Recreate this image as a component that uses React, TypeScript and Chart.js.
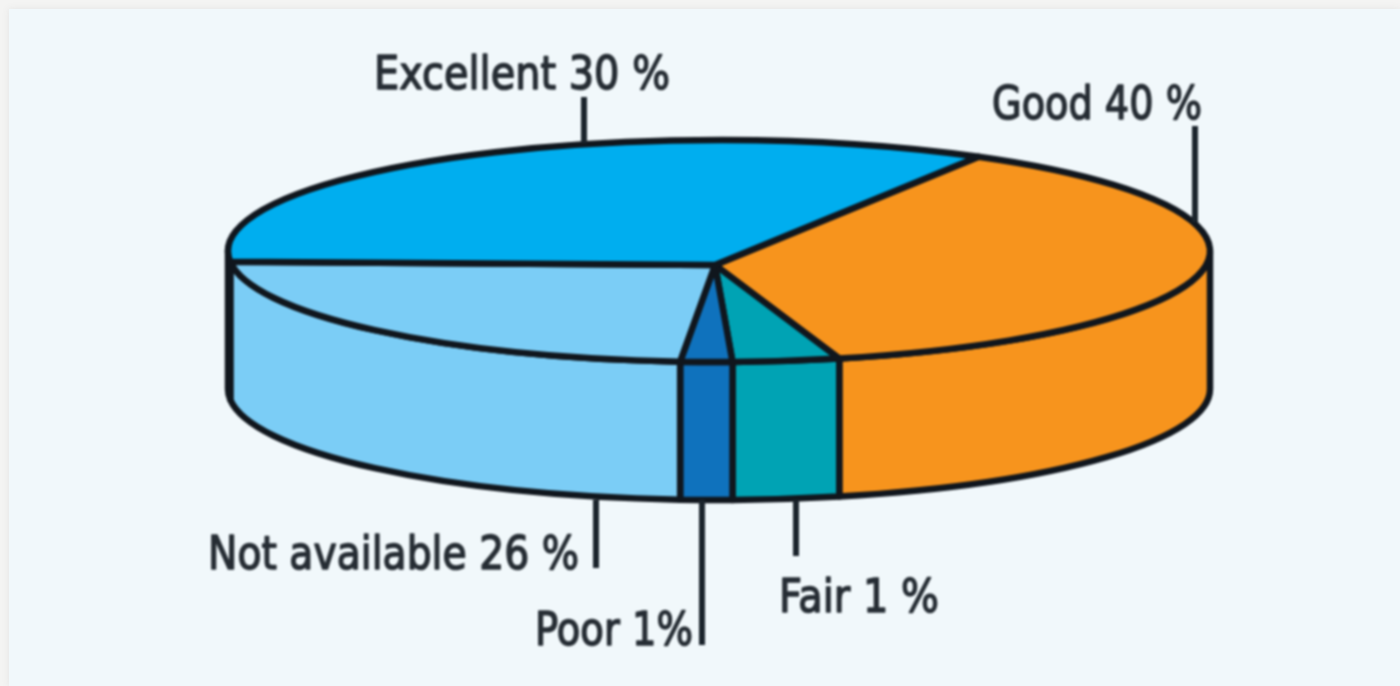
import React, { useEffect, useRef } from "react";
import { Chart, registerables } from "chart.js";

Chart.register(...registerables);

// Printed captions of the source figure.
const captions = ["Good 40 %", "Fair 1 %", "Poor 1%", "Not available 26 %", "Excellent 30 %"];
// Printed percentages (the figure's slices are not drawn to these proportions).
const printedPercent = [40, 1, 1, 26, 30];
// Share of the circle each slice actually occupies in the picture.
const drawnShares = [37.2, 3.5, 1.7, 22.2, 35.4];
const sliceColors = ["#f7941d", "#00a3b4", "#0f72bd", "#7bcdf6", "#00aeef"];

// Layout, separate from the data.
const ROTATION_DEG = 31.9;
const DEPTH = 138;
const HUB_OFFSET = { x: -4, y: 14 };
const INK = "#10161d";
const TEXT = "#262d34";
const LEADER = "#1b242c";
const captionBoxes = [
  { left: 992, width: 210, base: 119, lx: 1195, y1: 126, y2: 222 },
  { left: 779, width: 160, base: 612, lx: 796, y1: 500, y2: 556 },
  { left: 535, width: 158, base: 645, lx: 702, y1: 500, y2: 645 },
  { left: 208, width: 371, base: 569, lx: 596, y1: 500, y2: 568 },
  { left: 374, width: 296, base: 89, lx: 584, y1: 97, y2: 143 },
];

const TAU = Math.PI * 2;

const pie3d = {
  id: "pie3d",
  beforeDatasetDraw(chart: any) {
    const { ctx, chartArea } = chart;
    const meta = chart.getDatasetMeta(0);
    const rx = chartArea.width / 2;
    const ry = chartArea.height / 2;
    const cx = chartArea.left + rx;
    const cy = chartArea.top + ry;
    const colors = chart.data.datasets[0].backgroundColor;

    ctx.save();
    ctx.lineWidth = 6.5;
    ctx.lineJoin = "round";
    ctx.strokeStyle = INK;

    // Front walls
    meta.data.forEach((arc: any, i: number) => {
      let a = arc.startAngle % TAU;
      if (a < 0) a += TAU;
      const span = arc.endAngle - arc.startAngle;
      const b = a + span;
      const ranges = [
        [Math.max(a, 0), Math.min(b, Math.PI)],
        [Math.max(a, TAU), Math.min(b, TAU + Math.PI)],
      ];
      for (const [s, e] of ranges) {
        if (e <= s) continue;
        ctx.beginPath();
        ctx.ellipse(cx, cy, rx, ry, 0, s, e);
        ctx.lineTo(cx + rx * Math.cos(e), cy + DEPTH + ry * Math.sin(e));
        ctx.ellipse(cx, cy + DEPTH, rx, ry, 0, e, s, true);
        ctx.closePath();
        ctx.fillStyle = colors[i];
        ctx.fill();
        ctx.stroke();
      }
    });

    // Top face
    meta.data.forEach((arc: any, i: number) => {
      ctx.beginPath();
      ctx.moveTo(cx + HUB_OFFSET.x, cy + HUB_OFFSET.y);
      ctx.ellipse(cx, cy, rx, ry, 0, arc.startAngle, arc.endAngle);
      ctx.closePath();
      ctx.fillStyle = colors[i];
      ctx.fill();
      ctx.stroke();
    });

    // Leaders and captions
    chart.data.labels.forEach((label: string, i: number) => {
      const box = captionBoxes[i];
      ctx.beginPath();
      ctx.moveTo(box.lx, box.y1);
      ctx.lineTo(box.lx, box.y2);
      ctx.lineWidth = 6;
      ctx.strokeStyle = LEADER;
      ctx.stroke();
      ctx.fillStyle = TEXT;
      ctx.strokeStyle = TEXT;
      ctx.lineWidth = 1.6;
      ctx.font = '500 47px "DejaVu Sans", sans-serif';
      ctx.textAlign = "left";
      ctx.textBaseline = "alphabetic";
      ctx.fillText(label, box.left, box.base, box.width);
      ctx.strokeText(label, box.left, box.base, box.width);
    });
    ctx.restore();
    return false;
  },
};

export default function App() {
  const ref = useRef<HTMLCanvasElement>(null);
  useEffect(() => {
    const chart = new Chart(ref.current!, {
      type: "pie",
      data: {
        labels: captions,
        datasets: [{ data: drawnShares, backgroundColor: sliceColors, borderWidth: 0 }],
      },
      options: {
        animation: false,
        responsive: false,
        devicePixelRatio: 1,
        rotation: ROTATION_DEG,
        layout: { padding: { left: 228, right: 190, top: 140, bottom: 324 } },
        plugins: { legend: { display: false }, tooltip: { enabled: false } },
      },
      plugins: [pie3d],
    } as any);
    return () => chart.destroy();
  }, []);
  return (
    <div style={{ position: "fixed", inset: 0, background: "#f4f4f3", overflow: "hidden" }} data-percent={printedPercent.join(",")}>
      <div style={{ position: "absolute", left: 9, top: 9, right: 0, bottom: 0, background: "#f1f8fb", boxShadow: "0 0 6px rgba(225,225,225,0.9)" }} />
      <canvas ref={ref} width={1400} height={686} style={{ position: "absolute", left: 0, top: 0, filter: "blur(0.8px)" }} />
    </div>
  );
}
